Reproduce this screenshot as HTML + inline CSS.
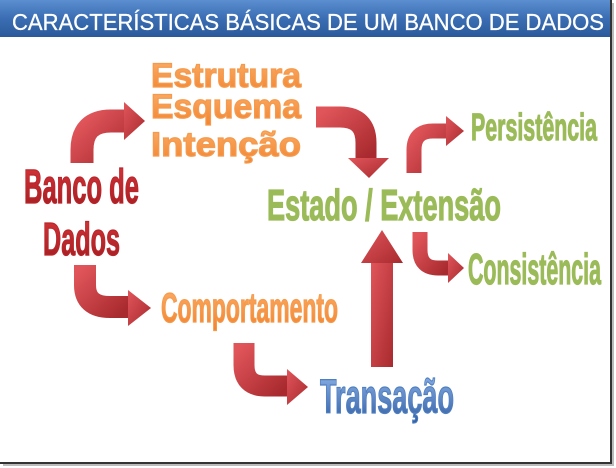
<!DOCTYPE html>
<html><head><meta charset="utf-8"><style>
html,body{margin:0;padding:0;background:#fff;width:616px;height:468px;overflow:hidden}
</style></head><body>
<svg width="616" height="468" viewBox="0 0 616 468" xmlns="http://www.w3.org/2000/svg" style="display:block">
<defs>
<linearGradient id="hdr" x1="0" y1="0" x2="0" y2="1"><stop offset="0" stop-color="#5b8fd0"/><stop offset="0.5" stop-color="#3a6db3"/><stop offset="1" stop-color="#2a5a9a"/></linearGradient>
<linearGradient id="red" x1="0" y1="0" x2="1" y2="1"><stop offset="0" stop-color="#e0555a"/><stop offset="1" stop-color="#a82a2e"/></linearGradient>
<linearGradient id="or" x1="0" y1="0" x2="0" y2="1"><stop offset="0" stop-color="#fbb06a"/><stop offset="1" stop-color="#f2832e"/></linearGradient>
<linearGradient id="bl" x1="0" y1="0" x2="0" y2="1"><stop offset="0" stop-color="#8fb4e8"/><stop offset="1" stop-color="#2f5ea4"/></linearGradient>
<linearGradient id="rd" x1="0" y1="0" x2="0" y2="1"><stop offset="0" stop-color="#d8353a"/><stop offset="1" stop-color="#a01c20"/></linearGradient>
</defs>
<rect x="0" y="0" width="611" height="463" fill="#fff"/>
<line x1="611" y1="0" x2="611" y2="463" stroke="#333" stroke-width="2"/>
<line x1="0" y1="463" x2="612" y2="463" stroke="#333" stroke-width="2"/>
<line x1="613" y1="3" x2="613" y2="465" stroke="#bbb" stroke-width="2"/>
<line x1="3" y1="465" x2="614" y2="465" stroke="#bbb" stroke-width="2"/>
<rect x="0" y="0" width="610" height="37" fill="url(#hdr)"/>
<text x="12" y="30" font-family="Liberation Sans, sans-serif" font-size="23" fill="#fff" stroke="#fff" stroke-width="0.3" textLength="592" lengthAdjust="spacingAndGlyphs">CARACTERÍSTICAS  BÁSICAS DE UM BANCO DE DADOS</text>

<g fill="none" stroke="url(#red)">
<path d="M82,163 L82,150 Q82,121 111,121 L125,121" stroke-width="23"/>
<path d="M316,117 L340,117 Q366,117 366,143 L366,159" stroke-width="21"/>
<path d="M414,173 L414,150 Q414,131 433,131 L447,131" stroke-width="15"/>
<path d="M85,265 L85,285 Q85,307 110,307 L129,307" stroke-width="22"/>
<path d="M244,343 L244,365 Q244,386 265,386 L288,386" stroke-width="21"/>
<path d="M420,232 L420,250 Q420,268 438,268 L449,268" stroke-width="15"/>
</g>
<g fill="url(#red)">
<polygon points="124,102 145,121 124,140"/>
<polygon points="348,158 389,158 369,178"/>
<polygon points="446,116 464,131 446,146"/>
<polygon points="128,290 151,308 128,326"/>
<polygon points="287,369 308,387 287,405"/>
<rect x="371" y="262" width="22" height="105"/>
<polygon points="361,263 382,230 403,263"/>
<polygon points="448,253 464,268 448,283"/>
</g>

<g font-family="Liberation Sans, sans-serif" font-weight="bold" stroke-width="1.2">
<text x="151" y="87" font-size="34" fill="url(#or)" stroke="#f59a4c" textLength="150" lengthAdjust="spacingAndGlyphs">Estrutura</text>
<text x="151" y="118" font-size="34" fill="url(#or)" stroke="#f59a4c" textLength="150" lengthAdjust="spacingAndGlyphs">Esquema</text>
<text x="151" y="156" font-size="34" fill="url(#or)" stroke="#f59a4c" textLength="150" lengthAdjust="spacingAndGlyphs">Intenção</text>
<text x="24" y="203" font-size="48" fill="url(#rd)" stroke="#b8262b" textLength="115" lengthAdjust="spacingAndGlyphs">Banco de</text>
<text x="43" y="255" font-size="46" fill="url(#rd)" stroke="#b8262b" textLength="77" lengthAdjust="spacingAndGlyphs">Dados</text>
<text x="267" y="220" font-size="44" fill="#9bbb59" stroke="#9bbb59" textLength="234" lengthAdjust="spacingAndGlyphs">Estado / Extensão</text>
<text x="471" y="140" font-size="38" fill="#9bbb59" stroke="#9bbb59" textLength="126" lengthAdjust="spacingAndGlyphs">Persistência</text>
<text x="468" y="284" font-size="44" fill="#9bbb59" stroke="#9bbb59" textLength="133" lengthAdjust="spacingAndGlyphs">Consistência</text>
<text x="161" y="322" font-size="42" fill="url(#or)" stroke="#f59a4c" textLength="177" lengthAdjust="spacingAndGlyphs">Comportamento</text>
<text x="320" y="413" font-size="48" fill="url(#bl)" stroke="#4f7fc0" textLength="134" lengthAdjust="spacingAndGlyphs">Transação</text>
</g>
</svg>
</body></html>
